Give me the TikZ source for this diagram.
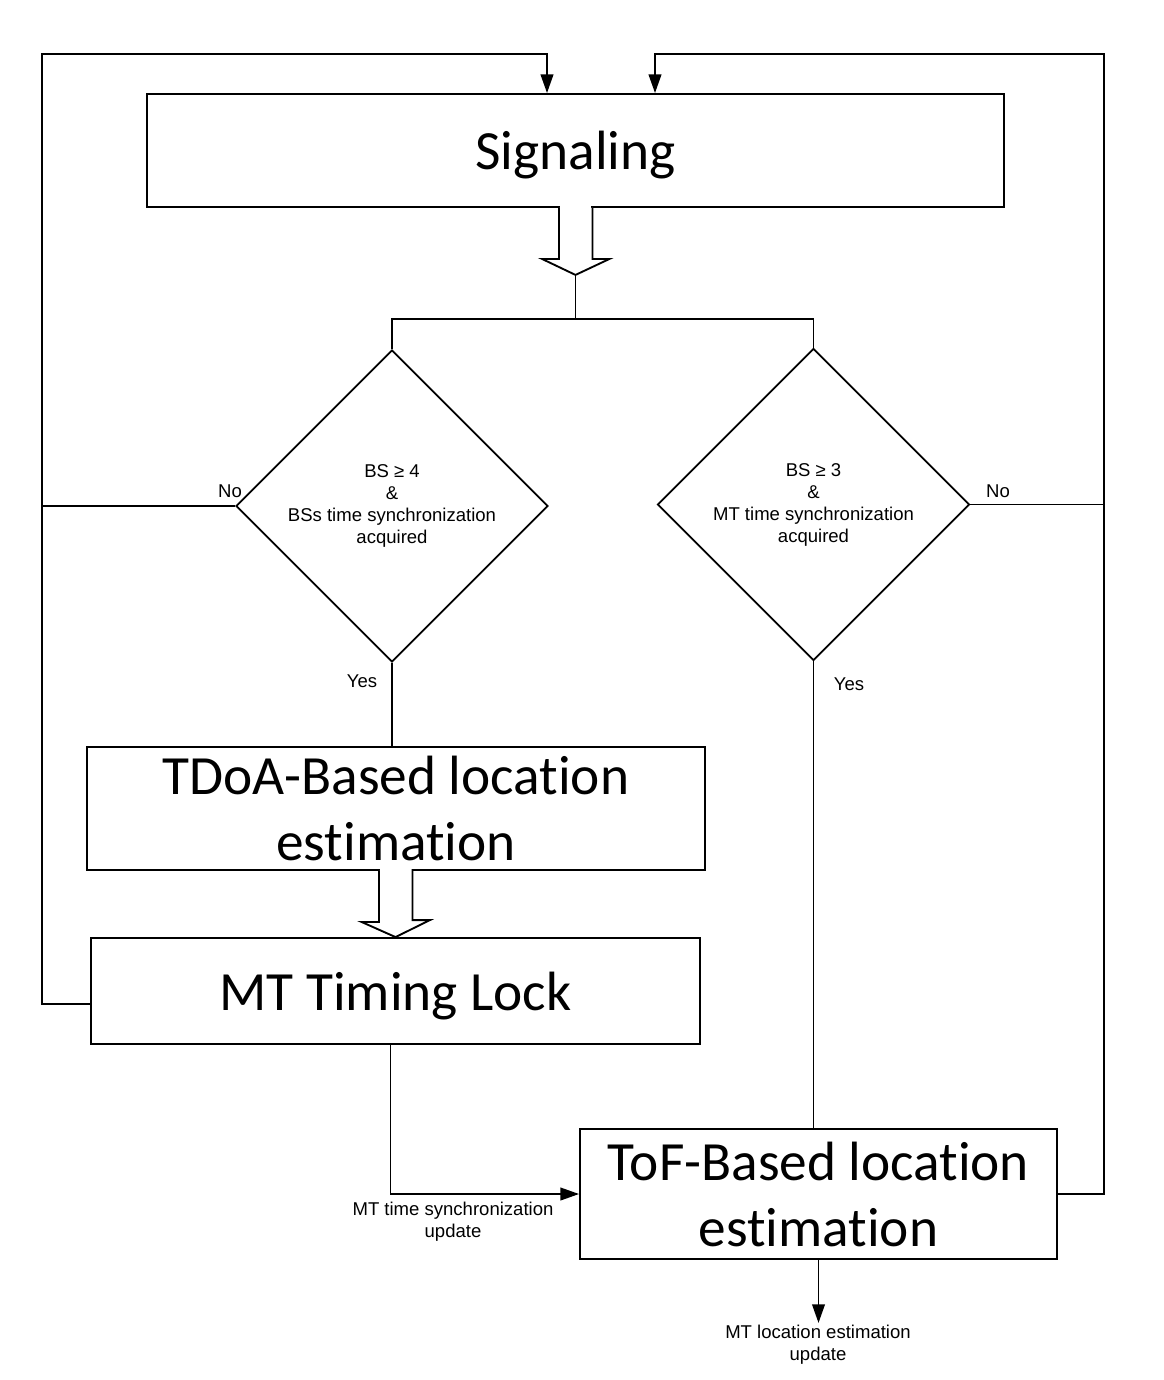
\documentclass[tikz,border=0pt]{standalone}
\usepackage{fontspec}
\setmainfont{Liberation Sans}
\newfontfamily\bigfont[Ligatures=NoCommon]{Carlito}
\usetikzlibrary{shapes.geometric,arrows.meta,calc}
\newcommand{\bigsize}{\fontsize{41.5}{49.5}\selectfont}
\newcommand{\smallsize}{\fontsize{13.9}{16.5}\selectfont}

\begin{document}
\begin{tikzpicture}[x=0.75pt,y=-0.75pt,line width=1.4pt,
  box/.style={draw, rectangle, inner sep=0pt, align=center, font=\bigfont\bigsize},
  decision/.style={draw, diamond, aspect=1, inner sep=0pt, align=center, font=\smallsize, minimum width=234pt, minimum height=234pt},
  lbl/.style={inner sep=0pt, align=center, font=\smallsize},
  flow/.style={-{Triangle[length=14pt,width=9.5pt]}},
  hollow/.style={fill=white, line join=miter}]
\useasboundingbox (0,0) rectangle (1163,1380);
\node[box, minimum width=642.75pt, minimum height=84.75pt, text depth=0pt] (sig) at (575.5,150.5) {Signaling};
\node[decision] (bs4) at (392,506) {BS ≥ 4\\\&\\BSs time synchronization\\acquired};
\node[decision] (bs3) at (813.5,504.5) {BS ≥ 3\\\&\\MT time synchronization\\acquired};
\node[box, minimum width=463.5pt, minimum height=92.25pt] (tdoa) at (396,808.5) {TDoA-Based location\\estimation};
\node[box, minimum width=456.75pt, minimum height=79.5pt, text depth=0pt] (lock) at (395.5,991) {MT Timing Lock};
\node[box, minimum width=357.75pt, minimum height=97.5pt] (tof) at (818.5,1194) {ToF-Based location\\estimation};
\coordinate (cl) at (42,54);
\coordinate (cr) at (1104,54);
\fill[white] ($(sig.south)+(-15.6,-2)$) rectangle ($(sig.south)+(15.6,1)$);
\filldraw[hollow] ($(sig.south)+(-16.5,0)$) -- ++(0,51) -- ++(-17,0) -- ($(sig.south)+(0,67)$) coordinate (tip1) -- ++(34,-16) -- ++(-17,0) -- ++(0,-51);
\fill[white] ($(tdoa.south)+(-16.1,-2)$) rectangle ($(tdoa.south)+(16.1,1)$);
\filldraw[hollow] ($(tdoa.south)+(-17,0)$) -- ++(0,51) -- ++(-17.5,0) -- (lock.north) -- ++(34.5,-17) -- ++(-17.5,0) -- ++(0,-51);
\draw (tip1) -- ++(0,44) coordinate (split);
\draw (bs4.north) |- (split) -| (bs3.north);
\draw[flow] ($(lock.west)+(0,13)$) -| (cl) -| ($(sig.north)+(-28.5,0)$);
\draw (bs4.west) -- (bs4.west -| cl);
\draw[flow] (tof.east) -| (cr) -| ($(sig.north)+(79.5,0)$);
\draw (bs3.east) -- (bs3.east -| cr);
\draw (bs4.south) -- (bs4.south |- tdoa.north);
\draw (bs3.south) -- (bs3.south |- tof.north);
\draw[flow] ($(lock.south)+(-5,0)$) |- (tof.west);
\draw[flow] (tof.south) -- ++(0,63) coordinate (out);
\node[lbl] (no4) at (230,491) {No};
\node[lbl] (no3) at (998,491) {No};
\node[lbl] (yes4) at (362,681) {Yes};
\node[lbl] (yes3) at (849,684) {Yes};
\node[lbl] (syncupd) at (453,1222) {MT time synchronization\\update};
\node[lbl] (locupd) at (818,1345) {MT location estimation\\update};
\end{tikzpicture}
\end{document}
